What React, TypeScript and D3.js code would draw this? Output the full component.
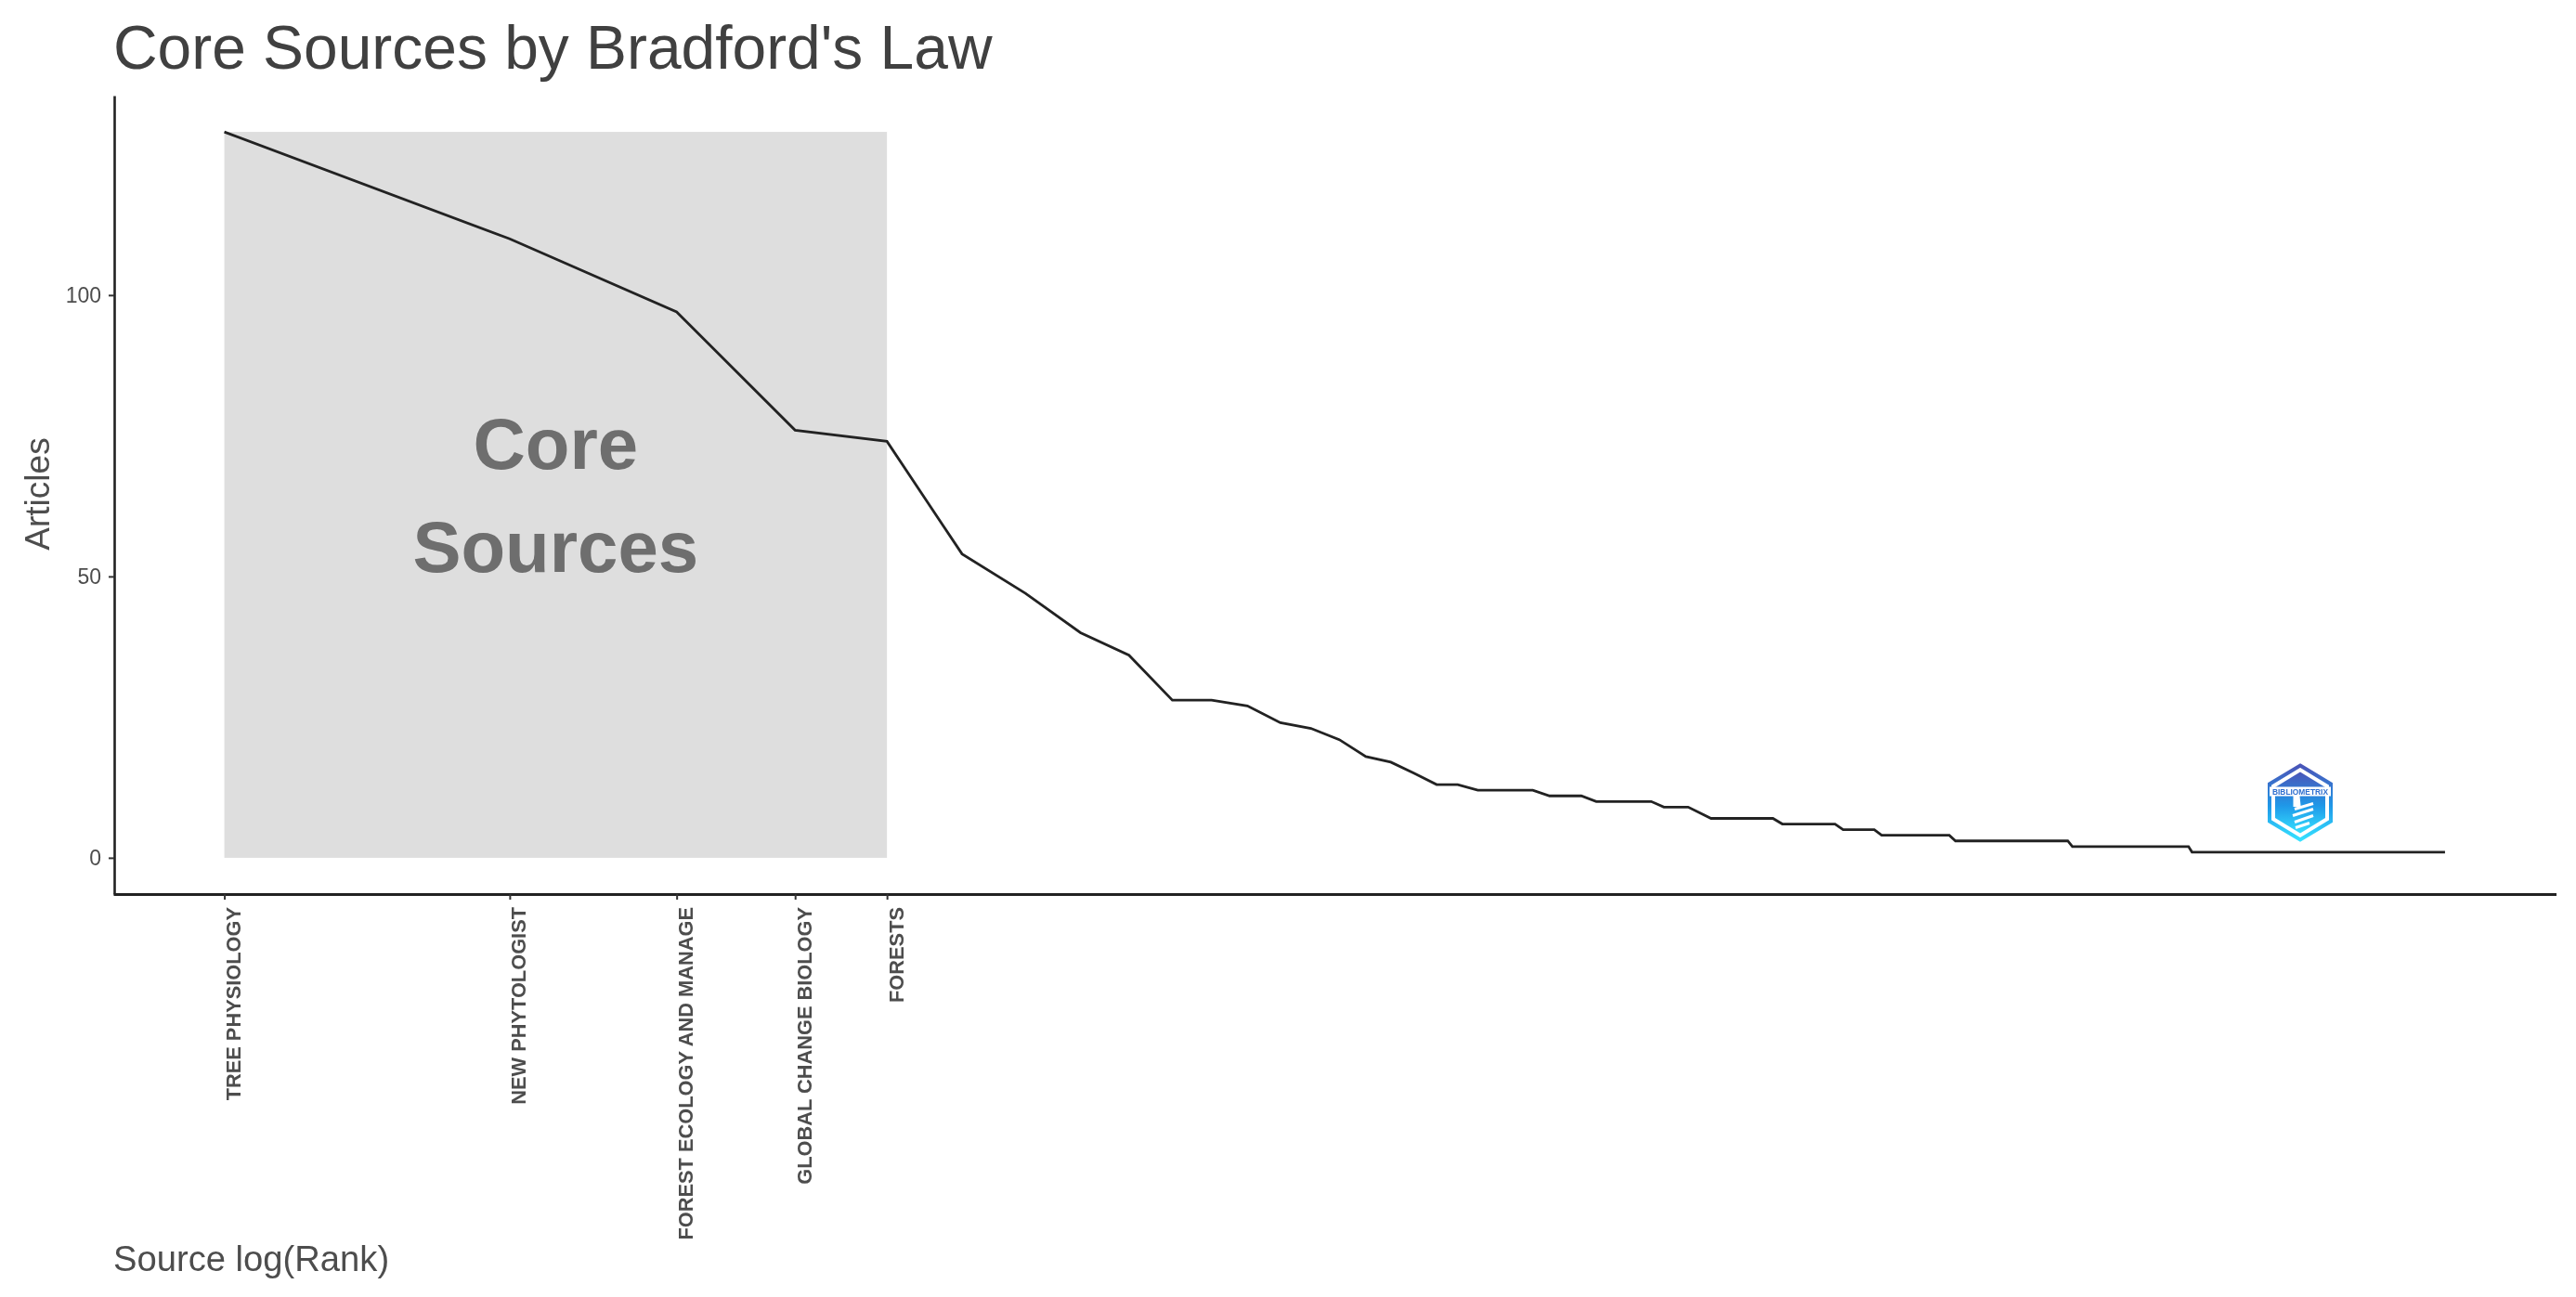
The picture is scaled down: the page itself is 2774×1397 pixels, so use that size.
import * as d3 from 'd3';
import { useRef, useEffect } from 'react';

const coreSources = ['TREE PHYSIOLOGY', 'NEW PHYTOLOGIST', 'FOREST ECOLOGY AND MANAGE', 'GLOBAL CHANGE BIOLOGY', 'FORESTS'];
const yTicks = [0, 50, 100];

// articles per source, index + 1 = rank
const articles = [
    129, 110, 97, 76, 74, 54, 47, 40, 36, 28,
    28, 27, 24, 23, 21, 18, 17, 15, 13, 13,
    12, 12, 12, 12, 11, 11, 11, 10, 10, 10,
    10, 10, 9, 9, 9, 8, 7, 7, 7, 7,
    7, 7, 7, 6, 6, 6, 6, 6, 6, 6,
    5, 5, 5, 5, 5, 4, 4, 4, 4, 4,
    4, 4, 4, 4, 4, 4, 3, 3, 3, 3,
    3, 3, 3, 3, 3, 3, 3, 3, 3, 3,
    3, 3, 3, 3, 3, 3, 3, 3, 2, 2,
    2, 2, 2, 2, 2, 2, 2, 2, 2, 2,
    2, 2, 2, 2, 2, 2, 2, 2, 2, 2,
    2, 2, 2, 2, 2, 2, 2, 2, 1, 1,
    1, 1, 1, 1, 1, 1, 1, 1, 1, 1,
    1, 1, 1, 1, 1, 1, 1, 1, 1, 1,
    1, 1, 1, 1, 1, 1, 1, 1, 1, 1,
    1, 1, 1, 1, 1, 1, 1, 1, 1, 1,
    1, 1, 1, 1, 1, 1, 1, 1, 1, 1,
    1, 1, 1, 1, 1, 1, 1, 1, 1, 1,
    1, 1, 1, 1, 1, 1, 1, 1, 1, 1,
    1, 1, 1, 1, 1, 1, 1, 1, 1, 1,
    1, 1, 1, 1, 1, 1, 1, 1, 1, 1,
    1, 1, 1, 1, 1, 1, 1, 1, 1, 1,
];

const WIDTH = 2774;
const HEIGHT = 1397;
const FONT = '"Liberation Sans", Arial, sans-serif';

export default function App() {
    const svgRef = useRef<SVGSVGElement>(null);

    useEffect(() => {
        if (!svgRef.current) return;

        const svg = d3.select(svgRef.current);
        svg.selectAll('*').remove();

        const maxRank = articles.length;
        const maxArticles = d3.max(articles) || 0;

        // ggplot style 5% expansion on both axes
        const logPad = 0.05 * Math.log(maxRank);
        const x = d3.scaleLog()
            .domain([Math.exp(-logPad), maxRank * Math.exp(logPad)])
            .range([122, 2752.5]);
        const yPad = 0.05 * maxArticles;
        const y = d3.scaleLinear()
            .domain([-yPad, maxArticles + yPad])
            .range([963, 103]);

        // Core area
        svg.append('rect')
            .attr('x', x(1))
            .attr('y', y(maxArticles))
            .attr('width', x(coreSources.length) - x(1))
            .attr('height', y(0) - y(maxArticles))
            .attr('fill', '#dedede');

        svg.append('g')
            .selectAll('text')
            .data(['Core', 'Sources'])
            .enter()
            .append('text')
            .attr('x', (x(1) + x(coreSources.length)) / 2)
            .attr('y', (_, i) => 505 + i * 111)
            .attr('text-anchor', 'middle')
            .attr('font-family', FONT)
            .attr('font-weight', 'bold')
            .attr('font-size', 78)
            .attr('fill', '#6e6e6e')
            .text(d => d);

        // Curve
        const line = d3.line<number>()
            .x((_, i) => x(i + 1))
            .y(d => y(d));
        svg.append('path')
            .datum(articles)
            .attr('d', line)
            .attr('fill', 'none')
            .attr('stroke', '#222222')
            .attr('stroke-width', 2.8);

        // Axes
        const xAxis = svg.append('g')
            .attr('transform', 'translate(0,963)')
            .call(
                d3.axisBottom(x)
                    .tickValues(coreSources.map((_, i) => i + 1))
                    .tickFormat((_, i) => coreSources[i])
                    .tickSize(6)
                    .tickSizeOuter(0)
            );
        xAxis.select('.domain').attr('stroke', '#222222').attr('stroke-width', 3);
        xAxis.selectAll('.tick line').attr('stroke', '#333333').attr('stroke-width', 2);
        xAxis.selectAll<SVGTextElement, number>('.tick text')
            .attr('transform', 'rotate(-90)')
            .attr('x', -14)
            .attr('y', 17)
            .attr('dy', 0)
            .attr('text-anchor', 'end')
            .attr('font-family', FONT)
            .attr('font-weight', 'bold')
            .attr('font-size', 21.8)
            .attr('fill', '#4d4d4d');

        const yAxis = svg.append('g')
            .attr('transform', 'translate(123,0)')
            .call(
                d3.axisLeft(y)
                    .tickValues(yTicks)
                    .tickSize(6)
                    .tickSizeOuter(0)
            );
        yAxis.select('.domain').attr('stroke', '#222222').attr('stroke-width', 2.6);
        yAxis.selectAll('.tick line').attr('stroke', '#333333').attr('stroke-width', 2);
        yAxis.selectAll('.tick text')
            .attr('x', -14)
            .attr('font-family', FONT)
            .attr('font-size', 23)
            .attr('fill', '#4d4d4d');

        // Titles
        svg.append('text')
            .attr('x', 122)
            .attr('y', 74)
            .attr('font-family', FONT)
            .attr('font-size', 65.9)
            .attr('fill', '#404040')
            .text("Core Sources by Bradford's Law");

        svg.append('text')
            .attr('transform', 'translate(53,532) rotate(-90)')
            .attr('text-anchor', 'middle')
            .attr('font-family', FONT)
            .attr('font-size', 37)
            .attr('fill', '#4d4d4d')
            .text('Articles');

        svg.append('text')
            .attr('x', 122)
            .attr('y', 1369)
            .attr('font-family', FONT)
            .attr('font-size', 38.2)
            .attr('fill', '#4d4d4d')
            .text('Source log(Rank)');

        // Bibliometrix badge
        const defs = svg.append('defs');
        const grad = defs.append('linearGradient')
            .attr('id', 'badge')
            .attr('x1', 0).attr('y1', 0).attr('x2', 0).attr('y2', 1);
        grad.append('stop').attr('offset', '0%').attr('stop-color', '#4a55b8');
        grad.append('stop').attr('offset', '55%').attr('stop-color', '#1f98e8');
        grad.append('stop').attr('offset', '100%').attr('stop-color', '#35e0ff');

        const badge = svg.append('g').attr('transform', 'translate(2477,864.5)');
        const hex = (w: number, h: number) =>
            `M0,${-h} L${w},${-h / 2} L${w},${h / 2} L0,${h} L${-w},${h / 2} L${-w},${-h / 2} Z`;
        badge.append('path')
            .attr('d', hex(33, 40))
            .attr('fill', 'none')
            .attr('stroke', 'url(#badge)')
            .attr('stroke-width', 4);
        badge.append('path')
            .attr('d', hex(27, 33))
            .attr('fill', 'url(#badge)');
        badge.append('rect')
            .attr('x', -33).attr('y', -17).attr('width', 66).attr('height', 10)
            .attr('fill', '#ffffff');
        badge.append('text')
            .attr('y', -9)
            .attr('text-anchor', 'middle')
            .attr('font-family', FONT)
            .attr('font-weight', 'bold')
            .attr('font-size', 9)
            .attr('textLength', 60)
            .attr('lengthAdjust', 'spacingAndGlyphs')
            .attr('fill', '#2f6fcf')
            .text('BIBLIOMETRIX');
        badge.append('path')
            .attr('d', 'M-6,-7 L-2,-7 L-1,3 L-6,3 Z M-6,7 L14,1 M-8,14 L14,7 M-6,21 L14,14 M-5,27 L10,22')
            .attr('fill', '#ffffff')
            .attr('stroke', '#ffffff')
            .attr('stroke-width', 3);
    }, []);

    return (
        <svg
            ref={svgRef}
            width={WIDTH}
            height={HEIGHT}
            style={{ position: 'absolute', left: 0, top: 0, display: 'block', background: '#ffffff', filter: 'blur(0.6px)' }}
        />
    );
}
